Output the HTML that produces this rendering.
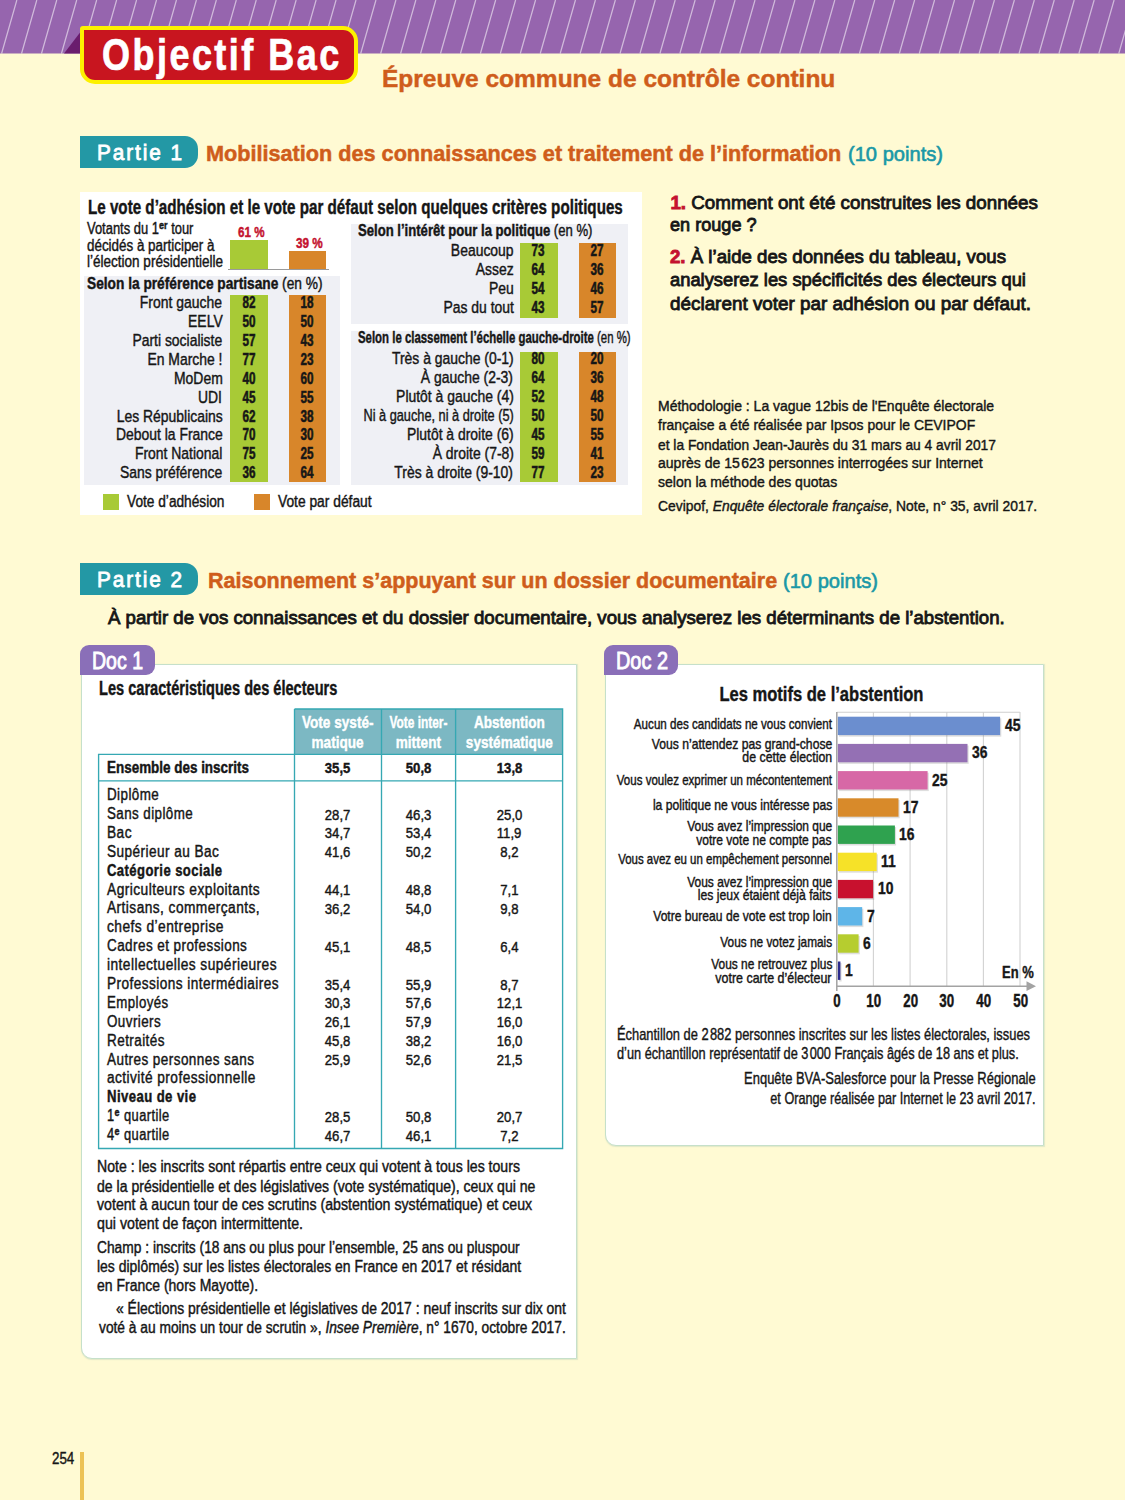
<!DOCTYPE html>
<html lang="fr"><head><meta charset="utf-8"><title>Objectif Bac</title>
<style>
html,body{margin:0;padding:0}
body{width:1125px;height:1500px;position:relative;overflow:hidden;background:#fffad3;font-family:"Liberation Sans", sans-serif;}
.t{position:absolute;white-space:nowrap;line-height:1;}
.b{position:absolute;}
sup{font-size:70%;font-weight:700;vertical-align:baseline;position:relative;top:-0.48em;line-height:0}

</style></head><body>
<svg class="b" style="left:0;top:0" width="1125" height="54" viewBox="0 0 1125 54"><rect width="1125" height="53.5" fill="#9665ae"/><path d="M-18.35 53.5L-3.10 0M1.60 53.5L16.85 0M21.55 53.5L36.80 0M41.50 53.5L56.75 0M61.45 53.5L76.70 0M81.40 53.5L96.65 0M101.35 53.5L116.60 0M121.30 53.5L136.55 0M141.25 53.5L156.50 0M161.20 53.5L176.45 0M181.15 53.5L196.40 0M201.10 53.5L216.35 0M221.05 53.5L236.30 0M241.00 53.5L256.25 0M260.95 53.5L276.20 0M280.90 53.5L296.15 0M300.85 53.5L316.10 0M320.80 53.5L336.05 0M340.75 53.5L356.00 0M360.70 53.5L375.95 0M380.65 53.5L395.90 0M400.60 53.5L415.85 0M420.55 53.5L435.80 0M440.50 53.5L455.75 0M460.45 53.5L475.70 0M480.40 53.5L495.65 0M500.35 53.5L515.60 0M520.30 53.5L535.55 0M540.25 53.5L555.50 0M560.20 53.5L575.45 0M580.15 53.5L595.40 0M600.10 53.5L615.35 0M620.05 53.5L635.30 0M640.00 53.5L655.25 0M659.95 53.5L675.20 0M679.90 53.5L695.15 0M699.85 53.5L715.10 0M719.80 53.5L735.05 0M739.75 53.5L755.00 0M759.70 53.5L774.95 0M779.65 53.5L794.90 0M799.60 53.5L814.85 0M819.55 53.5L834.80 0M839.50 53.5L854.75 0M859.45 53.5L874.70 0M879.40 53.5L894.65 0M899.35 53.5L914.60 0M919.30 53.5L934.55 0M939.25 53.5L954.50 0M959.20 53.5L974.45 0M979.15 53.5L994.40 0M999.10 53.5L1014.35 0M1019.05 53.5L1034.30 0M1039.00 53.5L1054.25 0M1058.95 53.5L1074.20 0M1078.90 53.5L1094.15 0M1098.85 53.5L1114.10 0M1118.80 53.5L1134.05 0M1138.75 53.5L1154.00 0" stroke="#fff" stroke-opacity=".55" stroke-width="1.25" fill="none"/></svg>
<svg class="b" style="left:60px;top:28px" width="24" height="26"><polygon points="4,25.6 21,3.3 21,25.6" fill="#6a1d6e"/></svg>
<div class="b" style="left:80.2px;top:25.9px;width:270.2px;height:49.8px;background:#c8151f;border:4.8px solid #fdf100;border-radius:3px 15px 15px 15px;"></div>
<div class="b" style="left:80px;top:136px;width:118px;height:32px;background:#2398a5;border-radius:0 13px 13px 0;"></div>
<div class="b" style="left:80px;top:192px;width:561.5px;height:323.4px;background:#fff;"></div>
<div class="b" style="left:83.5px;top:276px;width:256.5px;height:208.5px;background:#eff0f5;"></div>
<div class="b" style="left:351px;top:224px;width:276.5px;height:100px;background:#eff0f5;"></div>
<div class="b" style="left:351px;top:330.5px;width:276.5px;height:154px;background:#eff0f5;"></div>
<div class="b" style="left:230px;top:240px;width:37.5px;height:29px;background:#a8ca36;"></div>
<div class="b" style="left:288.8px;top:251px;width:37.6px;height:18px;background:#d8862a;"></div>
<div class="b" style="left:228px;top:268.6px;width:100.5px;height:1.6px;background:#9a9a9a;"></div>
<div class="b" style="left:230px;top:295.3px;width:37.5px;height:187.2px;background:#a8ca36;"></div>
<div class="b" style="left:288.8px;top:295.3px;width:37.6px;height:187.2px;background:#d8862a;"></div>
<div class="b" style="left:520.2px;top:243px;width:37.4px;height:75.3px;background:#a8ca36;"></div>
<div class="b" style="left:579.1px;top:243px;width:37.2px;height:75.3px;background:#d8862a;"></div>
<div class="b" style="left:520.2px;top:351.8px;width:37.4px;height:130px;background:#a8ca36;"></div>
<div class="b" style="left:579.1px;top:351.8px;width:37.2px;height:130px;background:#d8862a;"></div>
<div class="b" style="left:102.8px;top:494.2px;width:16px;height:15.5px;background:#a8ca36;"></div>
<div class="b" style="left:254px;top:494.2px;width:16px;height:15.5px;background:#d8862a;"></div>
<div class="b" style="left:80px;top:563px;width:118px;height:31.5px;background:#2398a5;border-radius:0 13px 13px 0;"></div>
<div class="b" style="left:81.2px;top:664.3px;width:493.6px;height:692.4px;background:#fff;border:1.6px solid #c6e0ca;border-radius:0 0 0 11px;box-shadow:.5px .5px 1px rgba(170,200,180,.35);"></div>
<div class="b" style="left:80px;top:645.4px;width:74.6px;height:30px;background:#8a6fb8;border-radius:9px 9px 9px 0;"></div>
<div class="b" style="left:294.5px;top:709px;width:268px;height:45.3px;background:#7cb8c3;"></div>
<svg class="b" style="left:90px;top:700px" width="480" height="455" viewBox="90 700 480 455" fill="none" stroke="#35a8b3" stroke-width="1.35"><path d="M294.5 709H562.6V1148.5H98.6V754.3H562.6M294.5 709V1148.5M381.5 709V1148.5M455.6 709V1148.5M98.6 780.9H562.6"/></svg>
<div class="b" style="left:605px;top:664.3px;width:437px;height:480px;background:#fff;border:1.6px solid #c6e0ca;border-radius:0 0 0 11px;box-shadow:.5px .5px 1px rgba(170,200,180,.35);"></div>
<div class="b" style="left:604px;top:645.4px;width:74px;height:30px;background:#8a6fb8;border-radius:9px 9px 9px 0;"></div>
<svg class="b" style="left:830px;top:705px" width="215" height="290" viewBox="830 705 215 290"><path d="M836.8 712.2H1020.0" stroke="#cfcfcf" stroke-width="1.1" fill="none"/><line x1="873.4" y1="712" x2="873.4" y2="986" stroke="#d2d2d2" stroke-width="1.1"/><line x1="910.1" y1="712" x2="910.1" y2="986" stroke="#d2d2d2" stroke-width="1.1"/><line x1="946.8" y1="712" x2="946.8" y2="986" stroke="#d2d2d2" stroke-width="1.1"/><line x1="983.4" y1="712" x2="983.4" y2="986" stroke="#d2d2d2" stroke-width="1.1"/><line x1="1020.0" y1="712" x2="1020.0" y2="986" stroke="#d2d2d2" stroke-width="1.1"/><rect x="839.0" y="718.3" width="162.3" height="18.4" fill="#8a8a8a" opacity=".28"/><rect x="837.8" y="716.7" width="162.3" height="18.4" fill="#6b8ecf"/><rect x="839.0" y="745.5" width="129.7" height="18.4" fill="#8a8a8a" opacity=".28"/><rect x="837.8" y="743.9" width="129.7" height="18.4" fill="#9470b4"/><rect x="839.0" y="772.7" width="89.8" height="18.4" fill="#8a8a8a" opacity=".28"/><rect x="837.8" y="771.1" width="89.8" height="18.4" fill="#d768a6"/><rect x="839.0" y="799.9" width="60.7" height="18.4" fill="#8a8a8a" opacity=".28"/><rect x="837.8" y="798.3" width="60.7" height="18.4" fill="#d88a2a"/><rect x="839.0" y="827.1" width="57.1" height="18.4" fill="#8a8a8a" opacity=".28"/><rect x="837.8" y="825.5" width="57.1" height="18.4" fill="#2fa24f"/><rect x="839.0" y="854.3" width="38.9" height="18.4" fill="#8a8a8a" opacity=".28"/><rect x="837.8" y="852.7" width="38.9" height="18.4" fill="#f6e228"/><rect x="839.0" y="881.5" width="35.3" height="18.4" fill="#8a8a8a" opacity=".28"/><rect x="837.8" y="879.9" width="35.3" height="18.4" fill="#c8112e"/><rect x="839.0" y="908.7" width="24.4" height="18.4" fill="#8a8a8a" opacity=".28"/><rect x="837.8" y="907.1" width="24.4" height="18.4" fill="#5eb5e8"/><rect x="839.0" y="935.9" width="20.8" height="18.4" fill="#8a8a8a" opacity=".28"/><rect x="837.8" y="934.3" width="20.8" height="18.4" fill="#b6cd2f"/><rect x="839.0" y="963.1" width="2.6" height="18.4" fill="#8a8a8a" opacity=".28"/><rect x="837.8" y="961.5" width="2.6" height="18.4" fill="#2b2b8e"/><path d="M836.8 712V991M836.8 986.2H1030" stroke="#a3a3a3" stroke-width="1.5" fill="none"/><polygon points="1026.5,981.3 1036,986.2 1026.5,991.1" fill="#a3a3a3"/></svg>
<div class="b" style="left:80.4px;top:1451.6px;width:4px;height:49px;background:#ecc255;"></div>
<div class="t" style="top:34px;font-size:43.5px;font-weight:700;letter-spacing:3px;color:#fff;left:102.0px;transform-origin:0 0;-webkit-text-stroke:0.7px;transform:scaleX(0.827);">Objectif Bac</div>
<div class="t" style="top:67px;font-size:24.5px;font-weight:700;color:#cf5d1b;left:382.0px;transform-origin:0 0;-webkit-text-stroke:0.45px;">Épreuve commune de contrôle continu</div>
<div class="t" style="top:143px;font-size:21.5px;font-weight:400;letter-spacing:2px;color:#fff;left:96.7px;transform-origin:0 0;-webkit-text-stroke:0.8px;transform:scaleX(0.965);">Partie 1</div>
<div class="t" style="top:143px;font-size:22px;font-weight:700;color:#cf5d1b;left:206.0px;transform-origin:0 0;-webkit-text-stroke:0.5px;transform:scaleX(0.984);">Mobilisation des connaissances et traitement de l’information</div>
<div class="t" style="top:144px;font-size:20px;font-weight:400;color:#1a98a6;left:848.0px;transform-origin:0 0;-webkit-text-stroke:0.6px;transform:scaleX(1.005);">(10 points)</div>
<div class="t" style="top:197px;font-size:20px;font-weight:700;color:#161616;left:87.6px;transform-origin:0 0;-webkit-text-stroke:0.42px;transform:scaleX(0.759);">Le vote d’adhésion et le vote par défaut selon quelques critères politiques</div>
<div class="t" style="top:221px;font-size:16px;font-weight:400;color:#161616;left:86.5px;transform-origin:0 0;-webkit-text-stroke:0.42px;transform:scaleX(0.809);">Votants du 1<sup>er</sup> tour</div>
<div class="t" style="top:238px;font-size:16px;font-weight:400;color:#161616;left:86.5px;transform-origin:0 0;-webkit-text-stroke:0.42px;transform:scaleX(0.838);">décidés à participer à</div>
<div class="t" style="top:254px;font-size:16px;font-weight:400;color:#161616;left:86.5px;transform-origin:0 0;-webkit-text-stroke:0.42px;transform:scaleX(0.845);">l’élection présidentielle</div>
<div class="t" style="top:225px;font-size:14px;font-weight:700;color:#c4122f;left:237.5px;transform-origin:0 0;-webkit-text-stroke:0.42px;transform:scaleX(0.830);">61 %</div>
<div class="t" style="top:236px;font-size:14px;font-weight:700;color:#c4122f;left:296.0px;transform-origin:0 0;-webkit-text-stroke:0.42px;transform:scaleX(0.840);">39 %</div>
<div class="t" style="top:276px;font-size:16px;font-weight:400;color:#161616;left:86.5px;transform-origin:0 0;-webkit-text-stroke:0.42px;transform:scaleX(0.857);"><b>Selon la préférence partisane</b> (en %)</div>
<div class="t" style="top:295px;font-size:16.8px;font-weight:400;color:#161616;right:902.7px;transform-origin:100% 0;-webkit-text-stroke:0.42px;transform:scaleX(0.830);">Front gauche</div>
<div class="t" style="top:295px;font-size:16px;font-weight:700;color:#161616;left:239.5px;transform-origin:50% 0;-webkit-text-stroke:0.55px;transform:scaleX(0.730);">82</div>
<div class="t" style="top:295px;font-size:16px;font-weight:700;color:#161616;left:298.3px;transform-origin:50% 0;-webkit-text-stroke:0.55px;transform:scaleX(0.730);">18</div>
<div class="t" style="top:314px;font-size:16.8px;font-weight:400;color:#161616;right:902.7px;transform-origin:100% 0;-webkit-text-stroke:0.42px;transform:scaleX(0.830);">EELV</div>
<div class="t" style="top:314px;font-size:16px;font-weight:700;color:#161616;left:239.5px;transform-origin:50% 0;-webkit-text-stroke:0.55px;transform:scaleX(0.730);">50</div>
<div class="t" style="top:314px;font-size:16px;font-weight:700;color:#161616;left:298.3px;transform-origin:50% 0;-webkit-text-stroke:0.55px;transform:scaleX(0.730);">50</div>
<div class="t" style="top:333px;font-size:16.8px;font-weight:400;color:#161616;right:902.7px;transform-origin:100% 0;-webkit-text-stroke:0.42px;transform:scaleX(0.830);">Parti socialiste</div>
<div class="t" style="top:333px;font-size:16px;font-weight:700;color:#161616;left:239.5px;transform-origin:50% 0;-webkit-text-stroke:0.55px;transform:scaleX(0.730);">57</div>
<div class="t" style="top:333px;font-size:16px;font-weight:700;color:#161616;left:298.3px;transform-origin:50% 0;-webkit-text-stroke:0.55px;transform:scaleX(0.730);">43</div>
<div class="t" style="top:352px;font-size:16.8px;font-weight:400;color:#161616;right:902.7px;transform-origin:100% 0;-webkit-text-stroke:0.42px;transform:scaleX(0.830);">En Marche !</div>
<div class="t" style="top:352px;font-size:16px;font-weight:700;color:#161616;left:239.5px;transform-origin:50% 0;-webkit-text-stroke:0.55px;transform:scaleX(0.730);">77</div>
<div class="t" style="top:352px;font-size:16px;font-weight:700;color:#161616;left:298.3px;transform-origin:50% 0;-webkit-text-stroke:0.55px;transform:scaleX(0.730);">23</div>
<div class="t" style="top:371px;font-size:16.8px;font-weight:400;color:#161616;right:902.7px;transform-origin:100% 0;-webkit-text-stroke:0.42px;transform:scaleX(0.830);">MoDem</div>
<div class="t" style="top:371px;font-size:16px;font-weight:700;color:#161616;left:239.5px;transform-origin:50% 0;-webkit-text-stroke:0.55px;transform:scaleX(0.730);">40</div>
<div class="t" style="top:371px;font-size:16px;font-weight:700;color:#161616;left:298.3px;transform-origin:50% 0;-webkit-text-stroke:0.55px;transform:scaleX(0.730);">60</div>
<div class="t" style="top:390px;font-size:16.8px;font-weight:400;color:#161616;right:902.7px;transform-origin:100% 0;-webkit-text-stroke:0.42px;transform:scaleX(0.830);">UDI</div>
<div class="t" style="top:390px;font-size:16px;font-weight:700;color:#161616;left:239.5px;transform-origin:50% 0;-webkit-text-stroke:0.55px;transform:scaleX(0.730);">45</div>
<div class="t" style="top:390px;font-size:16px;font-weight:700;color:#161616;left:298.3px;transform-origin:50% 0;-webkit-text-stroke:0.55px;transform:scaleX(0.730);">55</div>
<div class="t" style="top:409px;font-size:16.8px;font-weight:400;color:#161616;right:902.7px;transform-origin:100% 0;-webkit-text-stroke:0.42px;transform:scaleX(0.830);">Les Républicains</div>
<div class="t" style="top:409px;font-size:16px;font-weight:700;color:#161616;left:239.5px;transform-origin:50% 0;-webkit-text-stroke:0.55px;transform:scaleX(0.730);">62</div>
<div class="t" style="top:409px;font-size:16px;font-weight:700;color:#161616;left:298.3px;transform-origin:50% 0;-webkit-text-stroke:0.55px;transform:scaleX(0.730);">38</div>
<div class="t" style="top:427px;font-size:16.8px;font-weight:400;color:#161616;right:902.7px;transform-origin:100% 0;-webkit-text-stroke:0.42px;transform:scaleX(0.830);">Debout la France</div>
<div class="t" style="top:427px;font-size:16px;font-weight:700;color:#161616;left:239.5px;transform-origin:50% 0;-webkit-text-stroke:0.55px;transform:scaleX(0.730);">70</div>
<div class="t" style="top:427px;font-size:16px;font-weight:700;color:#161616;left:298.3px;transform-origin:50% 0;-webkit-text-stroke:0.55px;transform:scaleX(0.730);">30</div>
<div class="t" style="top:446px;font-size:16.8px;font-weight:400;color:#161616;right:902.7px;transform-origin:100% 0;-webkit-text-stroke:0.42px;transform:scaleX(0.830);">Front National</div>
<div class="t" style="top:446px;font-size:16px;font-weight:700;color:#161616;left:239.5px;transform-origin:50% 0;-webkit-text-stroke:0.55px;transform:scaleX(0.730);">75</div>
<div class="t" style="top:446px;font-size:16px;font-weight:700;color:#161616;left:298.3px;transform-origin:50% 0;-webkit-text-stroke:0.55px;transform:scaleX(0.730);">25</div>
<div class="t" style="top:465px;font-size:16.8px;font-weight:400;color:#161616;right:902.7px;transform-origin:100% 0;-webkit-text-stroke:0.42px;transform:scaleX(0.830);">Sans préférence</div>
<div class="t" style="top:465px;font-size:16px;font-weight:700;color:#161616;left:239.5px;transform-origin:50% 0;-webkit-text-stroke:0.55px;transform:scaleX(0.730);">36</div>
<div class="t" style="top:465px;font-size:16px;font-weight:700;color:#161616;left:298.3px;transform-origin:50% 0;-webkit-text-stroke:0.55px;transform:scaleX(0.730);">64</div>
<div class="t" style="top:494px;font-size:16px;font-weight:400;color:#161616;left:126.8px;transform-origin:0 0;-webkit-text-stroke:0.42px;transform:scaleX(0.856);">Vote d’adhésion</div>
<div class="t" style="top:494px;font-size:16px;font-weight:400;color:#161616;left:278.0px;transform-origin:0 0;-webkit-text-stroke:0.42px;transform:scaleX(0.862);">Vote par défaut</div>
<div class="t" style="top:223px;font-size:16px;font-weight:400;color:#161616;left:358.3px;transform-origin:0 0;-webkit-text-stroke:0.42px;transform:scaleX(0.819);"><b>Selon l’intérêt pour la politique</b> (en %)</div>
<div class="t" style="top:243px;font-size:16.8px;font-weight:400;color:#161616;right:611.5px;transform-origin:100% 0;-webkit-text-stroke:0.42px;transform:scaleX(0.830);">Beaucoup</div>
<div class="t" style="top:243px;font-size:16px;font-weight:700;color:#161616;left:529.3px;transform-origin:50% 0;-webkit-text-stroke:0.55px;transform:scaleX(0.730);">73</div>
<div class="t" style="top:243px;font-size:16px;font-weight:700;color:#161616;left:588.1px;transform-origin:50% 0;-webkit-text-stroke:0.55px;transform:scaleX(0.730);">27</div>
<div class="t" style="top:262px;font-size:16.8px;font-weight:400;color:#161616;right:611.5px;transform-origin:100% 0;-webkit-text-stroke:0.42px;transform:scaleX(0.830);">Assez</div>
<div class="t" style="top:262px;font-size:16px;font-weight:700;color:#161616;left:529.3px;transform-origin:50% 0;-webkit-text-stroke:0.55px;transform:scaleX(0.730);">64</div>
<div class="t" style="top:262px;font-size:16px;font-weight:700;color:#161616;left:588.1px;transform-origin:50% 0;-webkit-text-stroke:0.55px;transform:scaleX(0.730);">36</div>
<div class="t" style="top:281px;font-size:16.8px;font-weight:400;color:#161616;right:611.5px;transform-origin:100% 0;-webkit-text-stroke:0.42px;transform:scaleX(0.830);">Peu</div>
<div class="t" style="top:281px;font-size:16px;font-weight:700;color:#161616;left:529.3px;transform-origin:50% 0;-webkit-text-stroke:0.55px;transform:scaleX(0.730);">54</div>
<div class="t" style="top:281px;font-size:16px;font-weight:700;color:#161616;left:588.1px;transform-origin:50% 0;-webkit-text-stroke:0.55px;transform:scaleX(0.730);">46</div>
<div class="t" style="top:300px;font-size:16.8px;font-weight:400;color:#161616;right:611.5px;transform-origin:100% 0;-webkit-text-stroke:0.42px;transform:scaleX(0.830);">Pas du tout</div>
<div class="t" style="top:300px;font-size:16px;font-weight:700;color:#161616;left:529.3px;transform-origin:50% 0;-webkit-text-stroke:0.55px;transform:scaleX(0.730);">43</div>
<div class="t" style="top:300px;font-size:16px;font-weight:700;color:#161616;left:588.1px;transform-origin:50% 0;-webkit-text-stroke:0.55px;transform:scaleX(0.730);">57</div>
<div class="t" style="top:330px;font-size:16px;font-weight:400;color:#161616;left:358.3px;transform-origin:0 0;-webkit-text-stroke:0.42px;transform:scaleX(0.713);"><b>Selon le classement l’échelle gauche-droite</b> (en %)</div>
<div class="t" style="top:351px;font-size:16.8px;font-weight:400;color:#161616;right:611.5px;transform-origin:100% 0;-webkit-text-stroke:0.42px;transform:scaleX(0.830);">Très à gauche (0-1)</div>
<div class="t" style="top:351px;font-size:16px;font-weight:700;color:#161616;left:529.3px;transform-origin:50% 0;-webkit-text-stroke:0.55px;transform:scaleX(0.730);">80</div>
<div class="t" style="top:351px;font-size:16px;font-weight:700;color:#161616;left:588.1px;transform-origin:50% 0;-webkit-text-stroke:0.55px;transform:scaleX(0.730);">20</div>
<div class="t" style="top:370px;font-size:16.8px;font-weight:400;color:#161616;right:611.5px;transform-origin:100% 0;-webkit-text-stroke:0.42px;transform:scaleX(0.830);">À gauche (2-3)</div>
<div class="t" style="top:370px;font-size:16px;font-weight:700;color:#161616;left:529.3px;transform-origin:50% 0;-webkit-text-stroke:0.55px;transform:scaleX(0.730);">64</div>
<div class="t" style="top:370px;font-size:16px;font-weight:700;color:#161616;left:588.1px;transform-origin:50% 0;-webkit-text-stroke:0.55px;transform:scaleX(0.730);">36</div>
<div class="t" style="top:389px;font-size:16.8px;font-weight:400;color:#161616;right:611.5px;transform-origin:100% 0;-webkit-text-stroke:0.42px;transform:scaleX(0.830);">Plutôt à gauche (4)</div>
<div class="t" style="top:389px;font-size:16px;font-weight:700;color:#161616;left:529.3px;transform-origin:50% 0;-webkit-text-stroke:0.55px;transform:scaleX(0.730);">52</div>
<div class="t" style="top:389px;font-size:16px;font-weight:700;color:#161616;left:588.1px;transform-origin:50% 0;-webkit-text-stroke:0.55px;transform:scaleX(0.730);">48</div>
<div class="t" style="top:408px;font-size:16.8px;font-weight:400;color:#161616;right:611.5px;transform-origin:100% 0;-webkit-text-stroke:0.42px;transform:scaleX(0.760);">Ni à gauche, ni à droite (5)</div>
<div class="t" style="top:408px;font-size:16px;font-weight:700;color:#161616;left:529.3px;transform-origin:50% 0;-webkit-text-stroke:0.55px;transform:scaleX(0.730);">50</div>
<div class="t" style="top:408px;font-size:16px;font-weight:700;color:#161616;left:588.1px;transform-origin:50% 0;-webkit-text-stroke:0.55px;transform:scaleX(0.730);">50</div>
<div class="t" style="top:427px;font-size:16.8px;font-weight:400;color:#161616;right:611.5px;transform-origin:100% 0;-webkit-text-stroke:0.42px;transform:scaleX(0.830);">Plutôt à droite (6)</div>
<div class="t" style="top:427px;font-size:16px;font-weight:700;color:#161616;left:529.3px;transform-origin:50% 0;-webkit-text-stroke:0.55px;transform:scaleX(0.730);">45</div>
<div class="t" style="top:427px;font-size:16px;font-weight:700;color:#161616;left:588.1px;transform-origin:50% 0;-webkit-text-stroke:0.55px;transform:scaleX(0.730);">55</div>
<div class="t" style="top:446px;font-size:16.8px;font-weight:400;color:#161616;right:611.5px;transform-origin:100% 0;-webkit-text-stroke:0.42px;transform:scaleX(0.830);">À droite (7-8)</div>
<div class="t" style="top:446px;font-size:16px;font-weight:700;color:#161616;left:529.3px;transform-origin:50% 0;-webkit-text-stroke:0.55px;transform:scaleX(0.730);">59</div>
<div class="t" style="top:446px;font-size:16px;font-weight:700;color:#161616;left:588.1px;transform-origin:50% 0;-webkit-text-stroke:0.55px;transform:scaleX(0.730);">41</div>
<div class="t" style="top:465px;font-size:16.8px;font-weight:400;color:#161616;right:611.5px;transform-origin:100% 0;-webkit-text-stroke:0.42px;transform:scaleX(0.830);">Très à droite (9-10)</div>
<div class="t" style="top:465px;font-size:16px;font-weight:700;color:#161616;left:529.3px;transform-origin:50% 0;-webkit-text-stroke:0.55px;transform:scaleX(0.730);">77</div>
<div class="t" style="top:465px;font-size:16px;font-weight:700;color:#161616;left:588.1px;transform-origin:50% 0;-webkit-text-stroke:0.55px;transform:scaleX(0.730);">23</div>
<div class="t" style="top:194px;font-size:18.8px;font-weight:400;color:#161616;left:670.4px;transform-origin:0 0;-webkit-text-stroke:0.85px;"><span style="color:#c4122f;font-weight:700">1.</span> Comment ont été construites les données</div>
<div class="t" style="top:216px;font-size:18.8px;font-weight:400;color:#161616;left:670.4px;transform-origin:0 0;-webkit-text-stroke:0.85px;transform:scaleX(0.964);">en rouge ?</div>
<div class="t" style="top:248px;font-size:18.8px;font-weight:400;color:#161616;left:670.4px;transform-origin:0 0;-webkit-text-stroke:0.85px;transform:scaleX(0.993);"><span style="color:#c4122f;font-weight:700">2.</span> À l’aide des données du tableau, vous</div>
<div class="t" style="top:271px;font-size:18.8px;font-weight:400;color:#161616;left:670.4px;transform-origin:0 0;-webkit-text-stroke:0.85px;transform:scaleX(0.977);">analyserez les spécificités des électeurs qui</div>
<div class="t" style="top:295px;font-size:18.8px;font-weight:400;color:#161616;left:670.4px;transform-origin:0 0;-webkit-text-stroke:0.85px;transform:scaleX(1.005);">déclarent voter par adhésion ou par défaut.</div>
<div class="t" style="top:398px;font-size:15.3px;font-weight:400;color:#161616;left:658.0px;transform-origin:0 0;-webkit-text-stroke:0.42px;transform:scaleX(0.914);">Méthodologie : La vague 12bis de l'Enquête électorale</div>
<div class="t" style="top:417px;font-size:15.3px;font-weight:400;color:#161616;left:658.0px;transform-origin:0 0;-webkit-text-stroke:0.42px;transform:scaleX(0.912);">française a été réalisée par Ipsos pour le CEVIPOF</div>
<div class="t" style="top:437px;font-size:15.3px;font-weight:400;color:#161616;left:658.0px;transform-origin:0 0;-webkit-text-stroke:0.42px;transform:scaleX(0.901);">et la Fondation Jean-Jaurès du 31 mars au 4 avril 2017</div>
<div class="t" style="top:455px;font-size:15.3px;font-weight:400;color:#161616;left:658.0px;transform-origin:0 0;-webkit-text-stroke:0.42px;transform:scaleX(0.916);">auprès de 15<span style="font-size:35%"> </span>623 personnes interrogées sur Internet</div>
<div class="t" style="top:474px;font-size:15.3px;font-weight:400;color:#161616;left:658.0px;transform-origin:0 0;-webkit-text-stroke:0.42px;transform:scaleX(0.916);">selon la méthode des quotas</div>
<div class="t" style="top:498px;font-size:15.3px;font-weight:400;color:#161616;left:658.0px;transform-origin:0 0;-webkit-text-stroke:0.42px;transform:scaleX(0.906);">Cevipof, <i>Enquête électorale française</i>, Note, n° 35, avril 2017.</div>
<div class="t" style="top:570px;font-size:21.5px;font-weight:400;letter-spacing:2px;color:#fff;left:96.7px;transform-origin:0 0;-webkit-text-stroke:0.8px;transform:scaleX(0.965);">Partie 2</div>
<div class="t" style="top:570px;font-size:22px;font-weight:700;color:#cf5d1b;left:208.0px;transform-origin:0 0;-webkit-text-stroke:0.5px;transform:scaleX(0.978);">Raisonnement s’appuyant sur un dossier documentaire</div>
<div class="t" style="top:571px;font-size:20px;font-weight:400;color:#1a98a6;left:783.0px;transform-origin:0 0;-webkit-text-stroke:0.6px;transform:scaleX(1.005);">(10 points)</div>
<div class="t" style="top:609px;font-size:18.8px;font-weight:400;color:#161616;left:108.0px;transform-origin:0 0;-webkit-text-stroke:0.85px;transform:scaleX(0.993);">À partir de vos connaissances et du dossier documentaire, vous analyserez les déterminants de l’abstention.</div>
<div class="t" style="top:649px;font-size:24.5px;font-weight:400;color:#fff;left:92.0px;transform-origin:0 0;-webkit-text-stroke:0.9px;transform:scaleX(0.797);">Doc 1</div>
<div class="t" style="top:679px;font-size:19.5px;font-weight:700;color:#161616;left:99.2px;transform-origin:0 0;-webkit-text-stroke:0.42px;transform:scaleX(0.748);">Les caractéristiques des électeurs</div>
<div class="t" style="top:714px;font-size:17px;font-weight:700;color:#fff;left:293.3px;transform-origin:50% 0;-webkit-text-stroke:0.42px;transform:scaleX(0.800);">Vote systé-</div>
<div class="t" style="top:734px;font-size:17px;font-weight:700;color:#fff;left:305.4px;transform-origin:50% 0;-webkit-text-stroke:0.42px;transform:scaleX(0.800);">matique</div>
<div class="t" style="top:714px;font-size:17px;font-weight:700;color:#fff;left:377.2px;transform-origin:50% 0;-webkit-text-stroke:0.42px;transform:scaleX(0.700);">Vote inter-</div>
<div class="t" style="top:734px;font-size:17px;font-weight:700;color:#fff;left:390.3px;transform-origin:50% 0;-webkit-text-stroke:0.42px;transform:scaleX(0.800);">mittent</div>
<div class="t" style="top:714px;font-size:17px;font-weight:700;color:#fff;left:464.8px;transform-origin:50% 0;-webkit-text-stroke:0.42px;transform:scaleX(0.800);">Abstention</div>
<div class="t" style="top:734px;font-size:17px;font-weight:700;color:#fff;left:454.9px;transform-origin:50% 0;-webkit-text-stroke:0.42px;transform:scaleX(0.800);">systématique</div>
<div class="t" style="top:760px;font-size:15.6px;font-weight:700;color:#161616;left:106.7px;transform-origin:0 0;-webkit-text-stroke:0.42px;transform:scaleX(0.862);">Ensemble des inscrits</div>
<div class="t" style="top:760px;font-size:15px;font-weight:700;color:#161616;left:323.4px;transform-origin:50% 0;-webkit-text-stroke:0.42px;transform:scaleX(0.875);">35,5</div>
<div class="t" style="top:760px;font-size:15px;font-weight:700;color:#161616;left:404.0px;transform-origin:50% 0;-webkit-text-stroke:0.42px;transform:scaleX(0.875);">50,8</div>
<div class="t" style="top:760px;font-size:15px;font-weight:700;color:#161616;left:494.6px;transform-origin:50% 0;-webkit-text-stroke:0.42px;transform:scaleX(0.875);">13,8</div>
<div class="t" style="top:787px;font-size:15.6px;font-weight:400;letter-spacing:0.5px;color:#161616;left:106.7px;transform-origin:0 0;-webkit-text-stroke:0.42px;transform:scaleX(0.860);">Diplôme</div>
<div class="t" style="top:806px;font-size:15.6px;font-weight:400;letter-spacing:0.5px;color:#161616;left:106.7px;transform-origin:0 0;-webkit-text-stroke:0.42px;transform:scaleX(0.857);">Sans diplôme</div>
<div class="t" style="top:807px;font-size:15px;font-weight:400;color:#161616;left:323.4px;transform-origin:50% 0;-webkit-text-stroke:0.42px;transform:scaleX(0.875);">28,7</div>
<div class="t" style="top:807px;font-size:15px;font-weight:400;color:#161616;left:404.0px;transform-origin:50% 0;-webkit-text-stroke:0.42px;transform:scaleX(0.875);">46,3</div>
<div class="t" style="top:807px;font-size:15px;font-weight:400;color:#161616;left:494.6px;transform-origin:50% 0;-webkit-text-stroke:0.42px;transform:scaleX(0.875);">25,0</div>
<div class="t" style="top:825px;font-size:15.6px;font-weight:400;letter-spacing:0.5px;color:#161616;left:106.7px;transform-origin:0 0;-webkit-text-stroke:0.42px;transform:scaleX(0.879);">Bac</div>
<div class="t" style="top:825px;font-size:15px;font-weight:400;color:#161616;left:323.4px;transform-origin:50% 0;-webkit-text-stroke:0.42px;transform:scaleX(0.875);">34,7</div>
<div class="t" style="top:825px;font-size:15px;font-weight:400;color:#161616;left:404.0px;transform-origin:50% 0;-webkit-text-stroke:0.42px;transform:scaleX(0.875);">53,4</div>
<div class="t" style="top:825px;font-size:15px;font-weight:400;color:#161616;left:495.2px;transform-origin:50% 0;-webkit-text-stroke:0.42px;transform:scaleX(0.875);">11,9</div>
<div class="t" style="top:844px;font-size:15.6px;font-weight:400;letter-spacing:0.5px;color:#161616;left:106.7px;transform-origin:0 0;-webkit-text-stroke:0.42px;transform:scaleX(0.873);">Supérieur au Bac</div>
<div class="t" style="top:844px;font-size:15px;font-weight:400;color:#161616;left:323.4px;transform-origin:50% 0;-webkit-text-stroke:0.42px;transform:scaleX(0.875);">41,6</div>
<div class="t" style="top:844px;font-size:15px;font-weight:400;color:#161616;left:404.0px;transform-origin:50% 0;-webkit-text-stroke:0.42px;transform:scaleX(0.875);">50,2</div>
<div class="t" style="top:844px;font-size:15px;font-weight:400;color:#161616;left:498.8px;transform-origin:50% 0;-webkit-text-stroke:0.42px;transform:scaleX(0.875);">8,2</div>
<div class="t" style="top:863px;font-size:15.6px;font-weight:700;letter-spacing:0.5px;color:#161616;left:106.7px;transform-origin:0 0;-webkit-text-stroke:0.42px;transform:scaleX(0.839);">Catégorie sociale</div>
<div class="t" style="top:882px;font-size:15.6px;font-weight:400;letter-spacing:0.5px;color:#161616;left:106.7px;transform-origin:0 0;-webkit-text-stroke:0.42px;transform:scaleX(0.884);">Agriculteurs exploitants</div>
<div class="t" style="top:882px;font-size:15px;font-weight:400;color:#161616;left:323.4px;transform-origin:50% 0;-webkit-text-stroke:0.42px;transform:scaleX(0.875);">44,1</div>
<div class="t" style="top:882px;font-size:15px;font-weight:400;color:#161616;left:404.0px;transform-origin:50% 0;-webkit-text-stroke:0.42px;transform:scaleX(0.875);">48,8</div>
<div class="t" style="top:882px;font-size:15px;font-weight:400;color:#161616;left:498.8px;transform-origin:50% 0;-webkit-text-stroke:0.42px;transform:scaleX(0.875);">7,1</div>
<div class="t" style="top:900px;font-size:15.6px;font-weight:400;letter-spacing:0.5px;color:#161616;left:106.7px;transform-origin:0 0;-webkit-text-stroke:0.42px;transform:scaleX(0.880);">Artisans, commerçants,</div>
<div class="t" style="top:901px;font-size:15px;font-weight:400;color:#161616;left:323.4px;transform-origin:50% 0;-webkit-text-stroke:0.42px;transform:scaleX(0.875);">36,2</div>
<div class="t" style="top:901px;font-size:15px;font-weight:400;color:#161616;left:404.0px;transform-origin:50% 0;-webkit-text-stroke:0.42px;transform:scaleX(0.875);">54,0</div>
<div class="t" style="top:901px;font-size:15px;font-weight:400;color:#161616;left:498.8px;transform-origin:50% 0;-webkit-text-stroke:0.42px;transform:scaleX(0.875);">9,8</div>
<div class="t" style="top:919px;font-size:15.6px;font-weight:400;letter-spacing:0.5px;color:#161616;left:106.7px;transform-origin:0 0;-webkit-text-stroke:0.42px;transform:scaleX(0.885);">chefs d’entreprise</div>
<div class="t" style="top:938px;font-size:15.6px;font-weight:400;letter-spacing:0.5px;color:#161616;left:106.7px;transform-origin:0 0;-webkit-text-stroke:0.42px;transform:scaleX(0.865);">Cadres et professions</div>
<div class="t" style="top:939px;font-size:15px;font-weight:400;color:#161616;left:323.4px;transform-origin:50% 0;-webkit-text-stroke:0.42px;transform:scaleX(0.875);">45,1</div>
<div class="t" style="top:939px;font-size:15px;font-weight:400;color:#161616;left:404.0px;transform-origin:50% 0;-webkit-text-stroke:0.42px;transform:scaleX(0.875);">48,5</div>
<div class="t" style="top:939px;font-size:15px;font-weight:400;color:#161616;left:498.8px;transform-origin:50% 0;-webkit-text-stroke:0.42px;transform:scaleX(0.875);">6,4</div>
<div class="t" style="top:957px;font-size:15.6px;font-weight:400;letter-spacing:0.5px;color:#161616;left:106.7px;transform-origin:0 0;-webkit-text-stroke:0.42px;transform:scaleX(0.881);">intellectuelles supérieures</div>
<div class="t" style="top:976px;font-size:15.6px;font-weight:400;letter-spacing:0.5px;color:#161616;left:106.7px;transform-origin:0 0;-webkit-text-stroke:0.42px;transform:scaleX(0.874);">Professions intermédiaires</div>
<div class="t" style="top:977px;font-size:15px;font-weight:400;color:#161616;left:323.4px;transform-origin:50% 0;-webkit-text-stroke:0.42px;transform:scaleX(0.875);">35,4</div>
<div class="t" style="top:977px;font-size:15px;font-weight:400;color:#161616;left:404.0px;transform-origin:50% 0;-webkit-text-stroke:0.42px;transform:scaleX(0.875);">55,9</div>
<div class="t" style="top:977px;font-size:15px;font-weight:400;color:#161616;left:498.8px;transform-origin:50% 0;-webkit-text-stroke:0.42px;transform:scaleX(0.875);">8,7</div>
<div class="t" style="top:995px;font-size:15.6px;font-weight:400;letter-spacing:0.5px;color:#161616;left:106.7px;transform-origin:0 0;-webkit-text-stroke:0.42px;transform:scaleX(0.850);">Employés</div>
<div class="t" style="top:995px;font-size:15px;font-weight:400;color:#161616;left:323.4px;transform-origin:50% 0;-webkit-text-stroke:0.42px;transform:scaleX(0.875);">30,3</div>
<div class="t" style="top:995px;font-size:15px;font-weight:400;color:#161616;left:404.0px;transform-origin:50% 0;-webkit-text-stroke:0.42px;transform:scaleX(0.875);">57,6</div>
<div class="t" style="top:995px;font-size:15px;font-weight:400;color:#161616;left:494.6px;transform-origin:50% 0;-webkit-text-stroke:0.42px;transform:scaleX(0.875);">12,1</div>
<div class="t" style="top:1014px;font-size:15.6px;font-weight:400;letter-spacing:0.5px;color:#161616;left:106.7px;transform-origin:0 0;-webkit-text-stroke:0.42px;transform:scaleX(0.860);">Ouvriers</div>
<div class="t" style="top:1014px;font-size:15px;font-weight:400;color:#161616;left:323.4px;transform-origin:50% 0;-webkit-text-stroke:0.42px;transform:scaleX(0.875);">26,1</div>
<div class="t" style="top:1014px;font-size:15px;font-weight:400;color:#161616;left:404.0px;transform-origin:50% 0;-webkit-text-stroke:0.42px;transform:scaleX(0.875);">57,9</div>
<div class="t" style="top:1014px;font-size:15px;font-weight:400;color:#161616;left:494.6px;transform-origin:50% 0;-webkit-text-stroke:0.42px;transform:scaleX(0.875);">16,0</div>
<div class="t" style="top:1033px;font-size:15.6px;font-weight:400;letter-spacing:0.5px;color:#161616;left:106.7px;transform-origin:0 0;-webkit-text-stroke:0.42px;transform:scaleX(0.866);">Retraités</div>
<div class="t" style="top:1033px;font-size:15px;font-weight:400;color:#161616;left:323.4px;transform-origin:50% 0;-webkit-text-stroke:0.42px;transform:scaleX(0.875);">45,8</div>
<div class="t" style="top:1033px;font-size:15px;font-weight:400;color:#161616;left:404.0px;transform-origin:50% 0;-webkit-text-stroke:0.42px;transform:scaleX(0.875);">38,2</div>
<div class="t" style="top:1033px;font-size:15px;font-weight:400;color:#161616;left:494.6px;transform-origin:50% 0;-webkit-text-stroke:0.42px;transform:scaleX(0.875);">16,0</div>
<div class="t" style="top:1052px;font-size:15.6px;font-weight:400;letter-spacing:0.5px;color:#161616;left:106.7px;transform-origin:0 0;-webkit-text-stroke:0.42px;transform:scaleX(0.867);">Autres personnes sans</div>
<div class="t" style="top:1052px;font-size:15px;font-weight:400;color:#161616;left:323.4px;transform-origin:50% 0;-webkit-text-stroke:0.42px;transform:scaleX(0.875);">25,9</div>
<div class="t" style="top:1052px;font-size:15px;font-weight:400;color:#161616;left:404.0px;transform-origin:50% 0;-webkit-text-stroke:0.42px;transform:scaleX(0.875);">52,6</div>
<div class="t" style="top:1052px;font-size:15px;font-weight:400;color:#161616;left:494.6px;transform-origin:50% 0;-webkit-text-stroke:0.42px;transform:scaleX(0.875);">21,5</div>
<div class="t" style="top:1070px;font-size:15.6px;font-weight:400;letter-spacing:0.5px;color:#161616;left:106.7px;transform-origin:0 0;-webkit-text-stroke:0.42px;transform:scaleX(0.877);">activité professionnelle</div>
<div class="t" style="top:1089px;font-size:15.6px;font-weight:700;letter-spacing:0.5px;color:#161616;left:106.7px;transform-origin:0 0;-webkit-text-stroke:0.42px;transform:scaleX(0.842);">Niveau de vie</div>
<div class="t" style="top:1108px;font-size:15.6px;font-weight:400;letter-spacing:0.5px;color:#161616;left:106.7px;transform-origin:0 0;-webkit-text-stroke:0.42px;transform:scaleX(0.826);">1<sup>e</sup> quartile</div>
<div class="t" style="top:1109px;font-size:15px;font-weight:400;color:#161616;left:323.4px;transform-origin:50% 0;-webkit-text-stroke:0.42px;transform:scaleX(0.875);">28,5</div>
<div class="t" style="top:1109px;font-size:15px;font-weight:400;color:#161616;left:404.0px;transform-origin:50% 0;-webkit-text-stroke:0.42px;transform:scaleX(0.875);">50,8</div>
<div class="t" style="top:1109px;font-size:15px;font-weight:400;color:#161616;left:494.6px;transform-origin:50% 0;-webkit-text-stroke:0.42px;transform:scaleX(0.875);">20,7</div>
<div class="t" style="top:1127px;font-size:15.6px;font-weight:400;letter-spacing:0.5px;color:#161616;left:106.7px;transform-origin:0 0;-webkit-text-stroke:0.42px;transform:scaleX(0.826);">4<sup>e</sup> quartile</div>
<div class="t" style="top:1128px;font-size:15px;font-weight:400;color:#161616;left:323.4px;transform-origin:50% 0;-webkit-text-stroke:0.42px;transform:scaleX(0.875);">46,7</div>
<div class="t" style="top:1128px;font-size:15px;font-weight:400;color:#161616;left:404.0px;transform-origin:50% 0;-webkit-text-stroke:0.42px;transform:scaleX(0.875);">46,1</div>
<div class="t" style="top:1128px;font-size:15px;font-weight:400;color:#161616;left:498.8px;transform-origin:50% 0;-webkit-text-stroke:0.42px;transform:scaleX(0.875);">7,2</div>
<div class="t" style="top:1159px;font-size:15.8px;font-weight:400;color:#161616;left:97.3px;transform-origin:0 0;-webkit-text-stroke:0.42px;transform:scaleX(0.892);">Note : les inscrits sont répartis entre ceux qui votent à tous les tours</div>
<div class="t" style="top:1179px;font-size:15.8px;font-weight:400;color:#161616;left:97.3px;transform-origin:0 0;-webkit-text-stroke:0.42px;transform:scaleX(0.890);">de la présidentielle et des législatives (vote systématique), ceux qui ne</div>
<div class="t" style="top:1197px;font-size:15.8px;font-weight:400;color:#161616;left:97.3px;transform-origin:0 0;-webkit-text-stroke:0.42px;transform:scaleX(0.896);">votent à aucun tour de ces scrutins (abstention systématique) et ceux</div>
<div class="t" style="top:1216px;font-size:15.8px;font-weight:400;color:#161616;left:97.3px;transform-origin:0 0;-webkit-text-stroke:0.42px;transform:scaleX(0.899);">qui votent de façon intermittente.</div>
<div class="t" style="top:1240px;font-size:15.8px;font-weight:400;color:#161616;left:97.3px;transform-origin:0 0;-webkit-text-stroke:0.42px;transform:scaleX(0.872);">Champ : inscrits (18 ans ou plus pour l’ensemble, 25 ans ou pluspour</div>
<div class="t" style="top:1259px;font-size:15.8px;font-weight:400;color:#161616;left:97.3px;transform-origin:0 0;-webkit-text-stroke:0.42px;transform:scaleX(0.883);">les diplômés) sur les listes électorales en France en 2017 et résidant</div>
<div class="t" style="top:1278px;font-size:15.8px;font-weight:400;color:#161616;left:97.3px;transform-origin:0 0;-webkit-text-stroke:0.42px;transform:scaleX(0.886);">en France (hors Mayotte).</div>
<div class="t" style="top:1301px;font-size:15.8px;font-weight:400;color:#161616;left:115.7px;transform-origin:0 0;-webkit-text-stroke:0.42px;transform:scaleX(0.882);">« Élections présidentielle et législatives de 2017 : neuf inscrits sur dix ont</div>
<div class="t" style="top:1320px;font-size:15.8px;font-weight:400;color:#161616;left:99.2px;transform-origin:0 0;-webkit-text-stroke:0.42px;transform:scaleX(0.871);">voté à au moins un tour de scrutin », <i>Insee Première</i>, n° 1670, octobre 2017.</div>
<div class="t" style="top:649px;font-size:24.5px;font-weight:400;color:#fff;left:616.0px;transform-origin:0 0;-webkit-text-stroke:0.9px;transform:scaleX(0.812);">Doc 2</div>
<div class="t" style="top:684px;font-size:20.5px;font-weight:700;color:#161616;left:694.6px;transform-origin:50% 0;-webkit-text-stroke:0.42px;transform:scaleX(0.807);">Les motifs de l’abstention</div>
<div class="t" style="top:717px;font-size:16.5px;font-weight:700;color:#161616;left:1004.5px;transform-origin:0 0;-webkit-text-stroke:0.4px;transform:scaleX(0.840);">45</div>
<div class="t" style="top:744px;font-size:16.5px;font-weight:700;color:#161616;left:971.9px;transform-origin:0 0;-webkit-text-stroke:0.4px;transform:scaleX(0.840);">36</div>
<div class="t" style="top:772px;font-size:16.5px;font-weight:700;color:#161616;left:931.9px;transform-origin:0 0;-webkit-text-stroke:0.4px;transform:scaleX(0.840);">25</div>
<div class="t" style="top:799px;font-size:16.5px;font-weight:700;color:#161616;left:902.9px;transform-origin:0 0;-webkit-text-stroke:0.4px;transform:scaleX(0.840);">17</div>
<div class="t" style="top:826px;font-size:16.5px;font-weight:700;color:#161616;left:899.3px;transform-origin:0 0;-webkit-text-stroke:0.4px;transform:scaleX(0.840);">16</div>
<div class="t" style="top:853px;font-size:16.5px;font-weight:700;color:#161616;left:881.1px;transform-origin:0 0;-webkit-text-stroke:0.4px;transform:scaleX(0.840);">11</div>
<div class="t" style="top:880px;font-size:16.5px;font-weight:700;color:#161616;left:877.5px;transform-origin:0 0;-webkit-text-stroke:0.4px;transform:scaleX(0.840);">10</div>
<div class="t" style="top:908px;font-size:16.5px;font-weight:700;color:#161616;left:866.6px;transform-origin:0 0;-webkit-text-stroke:0.4px;transform:scaleX(0.840);">7</div>
<div class="t" style="top:935px;font-size:16.5px;font-weight:700;color:#161616;left:863.0px;transform-origin:0 0;-webkit-text-stroke:0.4px;transform:scaleX(0.840);">6</div>
<div class="t" style="top:962px;font-size:16.5px;font-weight:700;color:#161616;left:844.8px;transform-origin:0 0;-webkit-text-stroke:0.4px;transform:scaleX(0.840);">1</div>
<div class="t" style="top:993px;font-size:17.5px;font-weight:700;color:#161616;left:832.2px;transform-origin:50% 0;-webkit-text-stroke:0.42px;transform:scaleX(0.760);">0</div>
<div class="t" style="top:993px;font-size:17.5px;font-weight:700;color:#161616;left:864.0px;transform-origin:50% 0;-webkit-text-stroke:0.42px;transform:scaleX(0.760);">10</div>
<div class="t" style="top:993px;font-size:17.5px;font-weight:700;color:#161616;left:900.7px;transform-origin:50% 0;-webkit-text-stroke:0.42px;transform:scaleX(0.760);">20</div>
<div class="t" style="top:993px;font-size:17.5px;font-weight:700;color:#161616;left:937.3px;transform-origin:50% 0;-webkit-text-stroke:0.42px;transform:scaleX(0.760);">30</div>
<div class="t" style="top:993px;font-size:17.5px;font-weight:700;color:#161616;left:974.0px;transform-origin:50% 0;-webkit-text-stroke:0.42px;transform:scaleX(0.760);">40</div>
<div class="t" style="top:993px;font-size:17.5px;font-weight:700;color:#161616;left:1010.6px;transform-origin:50% 0;-webkit-text-stroke:0.42px;transform:scaleX(0.760);">50</div>
<div class="t" style="top:965px;font-size:16.8px;font-weight:700;color:#161616;left:1002.0px;transform-origin:0 0;-webkit-text-stroke:0.42px;transform:scaleX(0.773);">En %</div>
<div class="t" style="top:717px;font-size:14.3px;font-weight:400;color:#161616;right:293.0px;transform-origin:100% 0;-webkit-text-stroke:0.42px;transform:scaleX(0.812);">Aucun des candidats ne vous convient</div>
<div class="t" style="top:737px;font-size:14.3px;font-weight:400;color:#161616;right:293.0px;transform-origin:100% 0;-webkit-text-stroke:0.42px;transform:scaleX(0.850);">Vous n’attendez pas grand-chose</div>
<div class="t" style="top:750px;font-size:14.3px;font-weight:400;color:#161616;right:293.0px;transform-origin:100% 0;-webkit-text-stroke:0.42px;transform:scaleX(0.862);">de cette élection</div>
<div class="t" style="top:773px;font-size:14.3px;font-weight:400;color:#161616;right:293.0px;transform-origin:100% 0;-webkit-text-stroke:0.42px;transform:scaleX(0.806);">Vous voulez exprimer un mécontentement</div>
<div class="t" style="top:798px;font-size:14.3px;font-weight:400;color:#161616;right:293.0px;transform-origin:100% 0;-webkit-text-stroke:0.42px;transform:scaleX(0.849);">la politique ne vous intéresse pas</div>
<div class="t" style="top:819px;font-size:14.3px;font-weight:400;color:#161616;right:293.0px;transform-origin:100% 0;-webkit-text-stroke:0.42px;transform:scaleX(0.837);">Vous avez l’impression que</div>
<div class="t" style="top:833px;font-size:14.3px;font-weight:400;color:#161616;right:293.0px;transform-origin:100% 0;-webkit-text-stroke:0.42px;transform:scaleX(0.843);">votre vote ne compte pas</div>
<div class="t" style="top:852px;font-size:14.3px;font-weight:400;color:#161616;right:293.0px;transform-origin:100% 0;-webkit-text-stroke:0.42px;transform:scaleX(0.801);">Vous avez eu un empêchement personnel</div>
<div class="t" style="top:875px;font-size:14.3px;font-weight:400;color:#161616;right:293.0px;transform-origin:100% 0;-webkit-text-stroke:0.42px;transform:scaleX(0.837);">Vous avez l’impression que</div>
<div class="t" style="top:888px;font-size:14.3px;font-weight:400;color:#161616;right:293.0px;transform-origin:100% 0;-webkit-text-stroke:0.42px;transform:scaleX(0.854);">les jeux étaient déjà faits</div>
<div class="t" style="top:909px;font-size:14.3px;font-weight:400;color:#161616;right:293.0px;transform-origin:100% 0;-webkit-text-stroke:0.42px;transform:scaleX(0.847);">Votre bureau de vote est trop loin</div>
<div class="t" style="top:935px;font-size:14.3px;font-weight:400;color:#161616;right:293.0px;transform-origin:100% 0;-webkit-text-stroke:0.42px;transform:scaleX(0.827);">Vous ne votez jamais</div>
<div class="t" style="top:957px;font-size:14.3px;font-weight:400;color:#161616;right:293.0px;transform-origin:100% 0;-webkit-text-stroke:0.42px;transform:scaleX(0.833);">Vous ne retrouvez plus</div>
<div class="t" style="top:971px;font-size:14.3px;font-weight:400;color:#161616;right:293.0px;transform-origin:100% 0;-webkit-text-stroke:0.42px;transform:scaleX(0.870);">votre carte d’électeur</div>
<div class="t" style="top:1026px;font-size:16.4px;font-weight:400;color:#161616;left:616.7px;transform-origin:0 0;-webkit-text-stroke:0.4px;transform:scaleX(0.786);">Échantillon de 2<span style="font-size:35%"> </span>882 personnes inscrites sur les listes électorales, issues</div>
<div class="t" style="top:1045px;font-size:16.4px;font-weight:400;color:#161616;left:616.7px;transform-origin:0 0;-webkit-text-stroke:0.4px;transform:scaleX(0.778);">d’un échantillon représentatif de 3<span style="font-size:35%"> </span>000 Français âgés de 18 ans et plus.</div>
<div class="t" style="top:1070px;font-size:16.4px;font-weight:400;color:#161616;right:89.2px;transform-origin:100% 0;-webkit-text-stroke:0.4px;transform:scaleX(0.791);">Enquête BVA-Salesforce pour la Presse Régionale</div>
<div class="t" style="top:1090px;font-size:16.4px;font-weight:400;color:#161616;right:89.2px;transform-origin:100% 0;-webkit-text-stroke:0.4px;transform:scaleX(0.772);">et Orange réalisée par Internet le 23 avril 2017.</div>
<div class="t" style="top:1451px;font-size:16px;font-weight:400;color:#161616;left:51.6px;transform-origin:0 0;-webkit-text-stroke:0.4px;transform:scaleX(0.835);">254</div>
</body></html>
